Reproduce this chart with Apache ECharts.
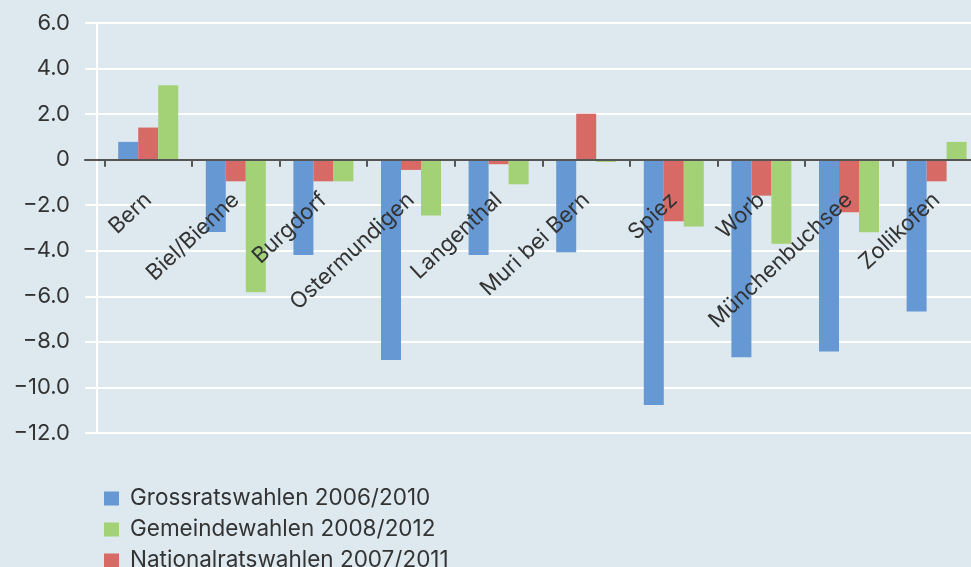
<!DOCTYPE html>
<html>
<head>
<meta charset="utf-8">
<script src="https://cdn.jsdelivr.net/npm/echarts@6/dist/echarts.min.js"></script>
<style>
html,body{margin:0;padding:0;background:#dde9ef;}
#main{width:971px;height:567px;}
</style>
</head>
<body>
<div id="main"></div>
<script>
// Gemeinden
var categories = ['Bern', 'Biel/Bienne', 'Burgdorf', 'Ostermundigen', 'Langenthal', 'Muri bei Bern', 'Spiez', 'Worb', 'Münchenbuchsee', 'Zollikofen'];
var seriesNames = ['Grossratswahlen 2006/2010', 'Nationalratswahlen 2007/2011', 'Gemeindewahlen 2008/2012'];
var legendOrder = ['Grossratswahlen 2006/2010', 'Gemeindewahlen 2008/2012', 'Nationalratswahlen 2007/2011'];
var grossrat = [0.78, -3.18, -4.19, -8.79, -4.18, -4.07, -10.77, -8.67, -8.42, -6.67];
var nationalrat = [1.41, -0.95, -0.95, -0.45, -0.2, 2.02, -2.7, -1.58, -2.31, -0.95];
var gemeinde = [3.27, -5.82, -0.95, -2.45, -1.08, -0.1, -2.93, -3.69, -3.19, 0.78];
var yMin = -12, yMax = 6, yStep = 2;

var font = 'Inter, "Liberation Sans", sans-serif';
var textColor = '#333333';

function fmt(v) {
    if (v === 0) return '0';
    if (v < 0) return '\u2212' + Math.abs(v).toFixed(1);
    return v.toFixed(1);
}

var myChart = echarts.init(document.getElementById('main'), null, {renderer: 'canvas'});

// plot area: y=6 at 23px, y=-12 at 433px
var gridTop = 23, gridHeight = 410;
var zeroOffset = gridHeight * (0 - yMin) / (yMax - yMin); // from the bottom up to the zero line

var option = {
    backgroundColor: '#dde9ef',
    animation: false,
    textStyle: {fontFamily: font},
    legend: {
        orient: 'vertical',
        left: 104,
        top: 487,
        height: 120,
        padding: 0,
        data: legendOrder,
        icon: 'rect',
        itemWidth: 15,
        itemHeight: 14,
        itemGap: 8,
        selectedMode: false,
        textStyle: {fontFamily: font, fontSize: 22.5, color: textColor, lineHeight: 20, padding: [0, 0, 0, 6]}
    },
    grid: [
        // gridlines + y labels
        {left: 85, right: 0, top: gridTop, height: gridHeight, outerBoundsMode: 'none'},
        // bars
        {left: 104.4, width: 876, top: gridTop, height: gridHeight, outerBoundsMode: 'none'}
    ],
    xAxis: [
        {
            gridIndex: 0, type: 'value', min: 0, max: 1,
            axisLine: {show: true, onZero: false, lineStyle: {color: '#555555', width: 2}},
            offset: -zeroOffset,
            axisTick: {show: false}, axisLabel: {show: false}, splitLine: {show: false}
        },
        {
            gridIndex: 1, type: 'category', data: categories, z: 10,
            axisLine: {show: true, onZero: false, lineStyle: {color: '#555555', width: 2}},
            offset: -zeroOffset,
            axisTick: {show: true, length: 7, lineStyle: {color: '#555555', width: 2}},
            axisLabel: {
                rotate: 43, margin: 37, interval: 0,
                fontFamily: font, fontSize: 22, color: textColor
            },
            splitLine: {show: false}
        }
    ],
    yAxis: [
        {
            gridIndex: 0, type: 'value', min: yMin, max: yMax, interval: yStep, offset: -12,
            axisLine: {show: true, onZero: false, lineStyle: {color: '#ffffff', width: 2}},
            axisTick: {show: false},
            axisLabel: {margin: 27, fontFamily: font, fontSize: 22, color: textColor, formatter: fmt},
            splitLine: {show: true, lineStyle: {color: '#ffffff', width: 2}}
        },
        {
            gridIndex: 1, type: 'value', min: yMin, max: yMax, interval: yStep, show: false,
            splitLine: {show: false}
        }
    ],
    series: [
        {name: seriesNames[0], type: 'bar', xAxisIndex: 1, yAxisIndex: 1, data: grossrat, barWidth: 20, barGap: '0%', itemStyle: {color: '#6699d4'}},
        {name: seriesNames[1], type: 'bar', xAxisIndex: 1, yAxisIndex: 1, data: nationalrat, barWidth: 20, barGap: '0%', itemStyle: {color: '#d86a66'}},
        {name: seriesNames[2], type: 'bar', xAxisIndex: 1, yAxisIndex: 1, data: gemeinde, barWidth: 20, barGap: '0%', itemStyle: {color: '#a3d175'}}
    ]
};

myChart.setOption(option);
</script>
</body>
</html>
